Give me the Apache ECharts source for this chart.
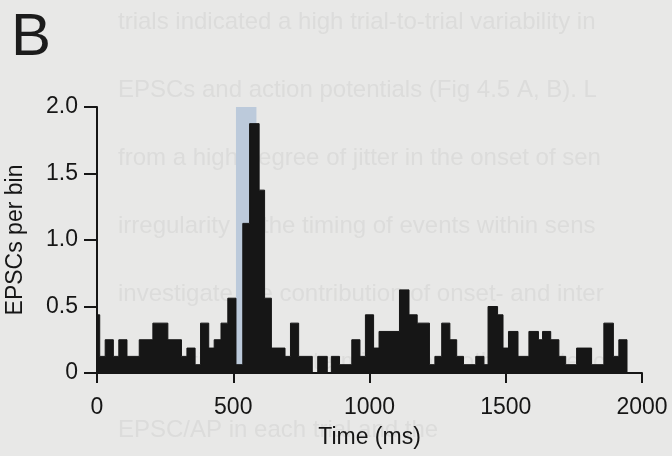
<!DOCTYPE html>
<html>
<head>
<meta charset="utf-8">
<script src="https://cdn.jsdelivr.net/npm/echarts@6/dist/echarts.min.js"></script>
<style>
  html, body { margin: 0; padding: 0; background: #e8e8e7; }
  #chart { width: 672px; height: 456px; }
</style>
</head>
<body>
<div id="chart"></div>
<script>
// left edge of each histogram step (ms) and EPSC count in that step (out of 16 trials)
const binEdges = [0, 10, 30, 60, 80, 110, 155, 205, 260, 310, 330, 360, 380, 410, 430, 455, 480, 510,
  535, 560, 595, 615, 640, 690, 710, 740, 790, 810, 845, 860, 890, 935, 965, 985, 1015, 1035, 1110,
  1145, 1175, 1220, 1240, 1265, 1295, 1320, 1345, 1390, 1420, 1435, 1470, 1490, 1510, 1545, 1585,
  1620, 1635, 1665, 1695, 1720, 1760, 1815, 1860, 1895, 1915]
const binCounts = [7, 2, 4, 2, 4, 2, 4, 6, 4, 2, 3, 1, 6, 3, 4, 6, 9, 1,
  18, 30, 22, 9, 3, 2, 6, 2, 0, 2, 0, 2, 1, 4, 2, 7, 3, 5, 10,
  7, 6, 1, 2, 6, 4, 2, 1, 2, 1, 8, 7, 3, 5, 2, 5,
  4, 5, 4, 2, 1, 3, 1, 6, 2, 4]
const lastEdge = 1945
const nTrials = 16

// shaded stimulus window
const stimWindow = [510, 585]
const stimTop = 2.0

const xTicks = [0, 500, 1000, 1500, 2000]
const yTicks = [0, 0.5, 1.0, 1.5, 2.0]

// faint show-through text from the other side of the scanned page
const bleedLines = [
  'trials indicated a high trial-to-trial variability in',
  'EPSCs and action potentials (Fig 4.5 A, B). L',
  'from a high degree of jitter in the onset of sen',
  'irregularity in the timing of events within sens',
  'investigate the contribution of onset- and inter',
  'correlation was determined for both the latency',
  'EPSC/AP in each trial and the'
]

const chart = echarts.init(document.getElementById('chart'))

const histData = binEdges.map((t, i) => [t, binCounts[i] / nTrials])
histData.push([lastEdge, 0])

const font = 'Liberation Sans'
const ink = '#161616'

chart.setOption({
  backgroundColor: '#e8e8e7',
  animation: false,
  title: {
    text: 'B',
    left: 6,
    top: 3,
    textStyle: { fontFamily: font, fontSize: 60, fontWeight: 'normal', color: '#1c1c1c' }
  },
  graphic: bleedLines.map((line, i) => ({
    type: 'text',
    silent: true,
    z: -10,
    left: 118,
    top: 10 + i * 68,
    style: { text: line, fill: '#dcdcdb', font: '24px "Liberation Sans"' }
  })),
  grid: { left: 97, right: 30, top: 107, bottom: 83, outerBoundsMode: 'none', containLabel: false },
  xAxis: {
    type: 'value',
    min: 0,
    max: 2000,
    interval: 500,
    name: 'Time (ms)',
    nameLocation: 'middle',
    nameGap: 53,
    nameTextStyle: { fontFamily: font, fontSize: 23, color: ink },
    axisLine: { lineStyle: { color: ink, width: 2 } },
    axisTick: { inside: false, length: 10, lineStyle: { color: ink, width: 2 } },
    axisLabel: {
      fontFamily: font, fontSize: 23, color: ink, margin: 23,
      formatter: (v) => (xTicks.includes(v) ? String(v) : '')
    },
    splitLine: { show: false }
  },
  yAxis: {
    type: 'value',
    min: 0,
    max: 2,
    interval: 0.5,
    name: 'EPSCs per bin',
    nameLocation: 'middle',
    nameGap: 70,
    nameTextStyle: { fontFamily: font, fontSize: 23, color: ink },
    axisLine: { show: true, lineStyle: { color: ink, width: 2 } },
    axisTick: { show: true, inside: false, length: 13, lineStyle: { color: ink, width: 2 } },
    axisLabel: {
      fontFamily: font, fontSize: 23, color: ink, margin: 19,
      formatter: (v) => (yTicks.includes(v) ? (v === 0 ? '0' : v.toFixed(1)) : '')
    },
    splitLine: { show: false }
  },
  series: [
    {
      type: 'line',
      z: 1,
      silent: true,
      symbol: 'none',
      data: [[stimWindow[0], stimTop], [stimWindow[1], stimTop]],
      lineStyle: { width: 0 },
      areaStyle: { color: '#bccadb', opacity: 1 }
    },
    {
      type: 'line',
      z: 3,
      silent: true,
      step: 'end',
      symbol: 'none',
      data: histData,
      lineStyle: { color: ink, width: 1 },
      areaStyle: { color: ink, opacity: 1 }
    }
  ]
})
</script>
</body>
</html>
